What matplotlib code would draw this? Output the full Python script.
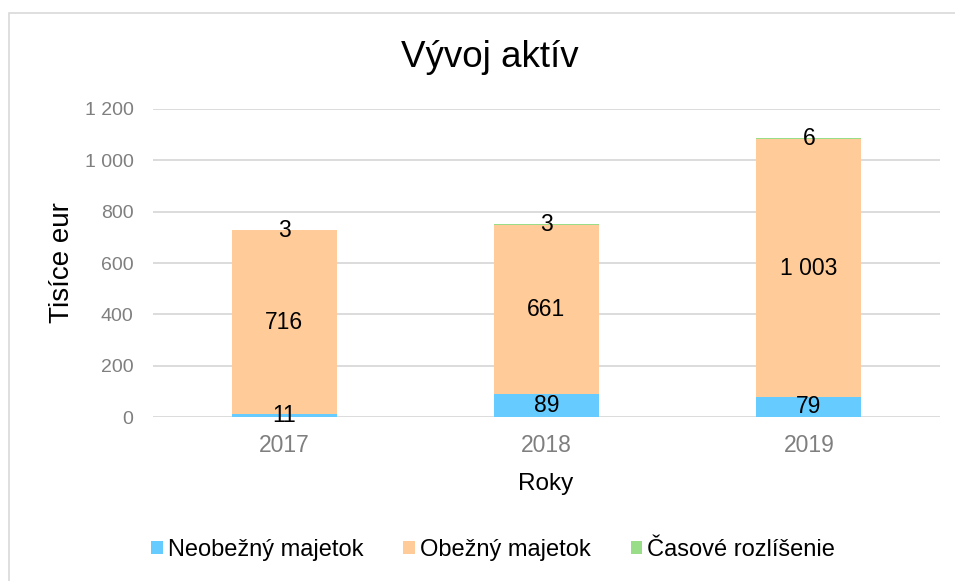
import matplotlib
matplotlib.use("Agg")
import matplotlib.pyplot as plt
from matplotlib.patches import Rectangle

plt.rcParams['font.family'] = ['Liberation Sans', 'DejaVu Sans']

years = ["2017", "2018", "2019"]
neobezny = [11, 89, 79]
obezny = [716, 661, 1003]
casove = [3, 3, 6]
series_names = ["Neobežný majetok", "Obežný majetok", "Časové rozlíšenie"]
colors = ["#66CCFF", "#FFCC99", "#99DD88"]
yticks = [0, 200, 400, 600, 800, 1000, 1200]

def fmt(v):
    return f"{v:,}".replace(",", " ")

W, H = 955, 581
fig = plt.figure(figsize=(W/100, H/100), dpi=100)
fig.patches.append(Rectangle((9/W, -0.1), 1.2, 1.1 - 13/H + 0.0, transform=fig.transFigure,
                             fill=False, edgecolor="#D9D9D9", linewidth=1.2))
ax = fig.add_axes([153/W, 164/H, 787/W, 308/H])

x = list(range(len(years)))
w = 0.4
bottoms = [0]*len(years)
for vals, name, c in zip([neobezny, obezny, casove], series_names, colors):
    ax.bar(x, vals, w, bottom=bottoms, color=c, label=name, zorder=3)
    for xi, v, b in zip(x, vals, bottoms):
        ax.text(xi, b + v/2, fmt(v), ha="center", va="center", fontsize=16.5, color="black", zorder=4)
    bottoms = [b + v for b, v in zip(bottoms, vals)]

ax.set_xlim(-0.5, 2.5)
ax.set_ylim(0, 1200)
ax.set_yticks(yticks)
ax.set_yticklabels([fmt(t) for t in yticks])
ax.set_xticks(x)
ax.set_xticklabels(years)
ax.tick_params(axis="both", length=0, colors="#7F7F7F")
ax.tick_params(axis="y", pad=14, labelsize=14)
ax.tick_params(axis="x", pad=12, labelsize=16.5)
ax.grid(axis="y", color="#D9D9D9", linewidth=1.3, zorder=0)
for s in ax.spines.values():
    s.set_visible(False)

fig.text(546/W, 1 - 490/H, "Roky", ha="center", va="baseline", fontsize=17.5)
fig.text(62/W, 1 - 263/H, "Tisíce eur", ha="center", va="center", rotation=90, fontsize=20)
fig.text(490/W, 1 - 67/H, "Vývoj aktív", ha="center", va="baseline", fontsize=26.5)

fig.legend(loc="center", bbox_to_anchor=(493/W, 1 - 550/H), ncol=3, frameon=False,
           fontsize=17, handlelength=0.5, handleheight=0.5, handletextpad=0.2, columnspacing=1.7,
           borderpad=0, borderaxespad=0)

fig.savefig("out.png", dpi=100)
